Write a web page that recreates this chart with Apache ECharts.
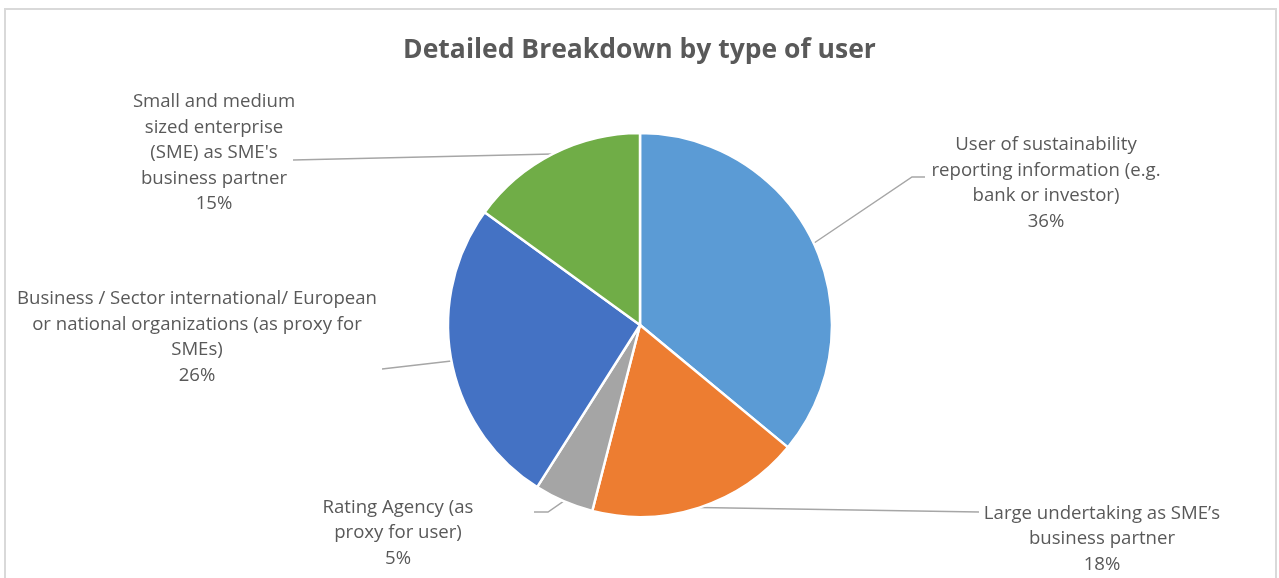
<!DOCTYPE html>
<html>
<head>
<meta charset="utf-8">
<title>Detailed Breakdown by type of user</title>
<script src="https://cdn.jsdelivr.net/npm/echarts@6/dist/echarts.min.js"></script>
<style>
  html, body { margin: 0; padding: 0; background: #ffffff; }
  #chart { width: 1279px; height: 578px; }
</style>
</head>
<body>
<div id="chart"></div>
<script>
// Chart data
const chartTitle = 'Detailed Breakdown by type of user';
const categories = [
  'User of sustainability\nreporting information (e.g.\nbank or investor)',
  'Large undertaking as SME\u2019s\nbusiness partner',
  'Rating Agency (as\nproxy for user)',
  'Business / Sector international/ European\nor national organizations (as proxy for\nSMEs)',
  'Small and medium\nsized enterprise\n(SME) as SME\'s\nbusiness partner'
];
const shares = [36, 18, 5, 26, 15];
const sliceColors = ['#5B9BD5', '#ED7D31', '#A5A5A5', '#4472C4', '#70AD47'];

// Layout: pie geometry and where each label block sits, with the end of its leader line
const pieCenter = [640, 325];
const pieRadius = 192;
const labelSpots = [
  { x: 1046, y: 183, end: [925, 177], elbow: [912, 177] },
  { x: 1102, y: 539, end: [979, 512] },
  { x: 398,  y: 533, end: [534, 512], elbow: [548, 512] },
  { x: 197,  y: 337, end: [382, 369] },
  { x: 214,  y: 153, end: [293, 160] }
];

const textColor = '#595959';
const fontFamily = '"Open Sans", "Noto Sans", sans-serif';

// Point on the outer rim at the middle of slice i (fallback when no default line is given)
function rimPoint(i) {
  const total = shares.reduce((s, v) => s + v, 0);
  let before = 0;
  for (let k = 0; k < i; k++) before += shares[k];
  const ang = ((before + shares[i] / 2) / total) * Math.PI * 2;
  return [pieCenter[0] + pieRadius * Math.sin(ang), pieCenter[1] - pieRadius * Math.cos(ang)];
}

const chart = echarts.init(document.getElementById('chart'), null, { renderer: 'canvas' });

chart.setOption({
  backgroundColor: '#ffffff',
  animation: false,
  title: {
    text: chartTitle,
    left: 'center',
    top: 32,
    textStyle: { color: textColor, fontFamily: fontFamily, fontWeight: 'bold', fontSize: 26.5 }
  },
  graphic: [{
    type: 'rect',
    silent: true,
    shape: { x: 5, y: 9, width: 1271, height: 620 },
    style: { fill: 'none', stroke: '#d9d9d9', lineWidth: 2 }
  }],
  series: [{
    type: 'pie',
    center: pieCenter,
    radius: pieRadius,
    startAngle: 90,
    clockwise: true,
    avoidLabelOverlap: false,
    data: categories.map((name, i) => ({
      name: name,
      value: shares[i],
      itemStyle: { color: sliceColors[i] }
    })),
    itemStyle: { borderColor: '#ffffff', borderWidth: 2.5 },
    emphasis: { disabled: true },
    label: {
      show: true,
      position: 'outside',
      formatter: p => p.name + '\n' + p.value + '%',
      color: textColor,
      fontFamily: fontFamily,
      fontSize: 18.6,
      lineHeight: 25.5
    },
    labelLine: {
      show: true,
      length: 5,
      length2: 5,
      lineStyle: { color: '#a6a6a6', width: 1.5 }
    },
    labelLayout: function (params) {
      const spot = labelSpots[params.dataIndex];
      const start = params.labelLinePoints ? params.labelLinePoints[0] : rimPoint(params.dataIndex);
      return {
        x: spot.x,
        y: spot.y,
        align: 'center',
        verticalAlign: 'middle',
        labelLinePoints: [start, spot.elbow || spot.end, spot.end]
      };
    }
  }]
});
</script>
</body>
</html>
